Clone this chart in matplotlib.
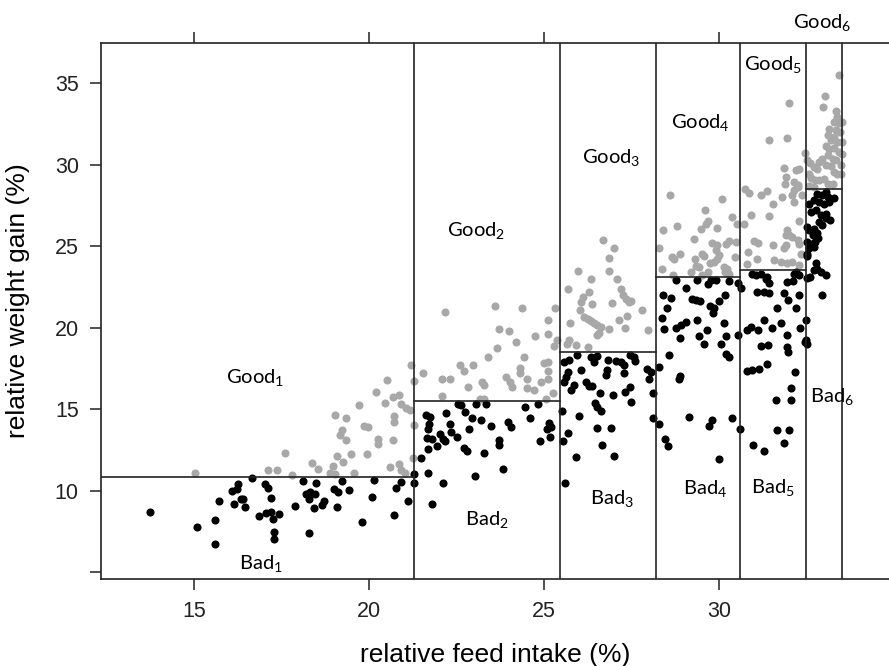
import numpy as np
import matplotlib
matplotlib.use("Agg")
import matplotlib.pyplot as plt

# group boundaries on the feed axis and the weight-gain cut in each group
cuts = [21.27, 25.46, 28.19, 30.6, 32.48, 33.52]
levels = [10.84, 15.48, 18.51, 23.07, 23.52, 28.5]

# points above the cut (grey) and below it (black), per group
good_1 = [(15.02, 11.09), (17.12, 11.23), (17.37, 11.23), (17.6, 12.29), (17.79, 10.94),
          (18.36, 11.66), (18.55, 11.29), (18.96, 11.49), (19.25, 11.74), (18.89, 11.1),
          (19.03, 11.04), (19.57, 11.09), (20.61, 11.43), (20.86, 11.6), (20.9, 11.23),
          (21.03, 11.1), (21.25, 12.0), (19.08, 12.1), (19.49, 12.25), (19.93, 12.23),
          (19.35, 13.07), (20.25, 13.19), (20.25, 12.88), (20.68, 13.09), (19.22, 13.7),
          (19.18, 13.4), (19.86, 13.94), (19.98, 13.87), (20.72, 14.58), (20.7, 14.21),
          (21.27, 14.0), (19.02, 14.62), (19.35, 14.46), (19.72, 15.23), (21.05, 15.07),
          (21.17, 14.93), (20.45, 15.34), (20.69, 15.72), (20.84, 15.85), (20.9, 15.3),
          (20.2, 16.06), (20.51, 16.77), (21.29, 16.73), (21.19, 17.69)]
good_2 = [(22.17, 20.96), (23.6, 21.31), (24.38, 21.17), (25.31, 21.17), (23.71, 19.94),
          (24.0, 19.77), (25.12, 20.45), (24.19, 19.12), (24.73, 19.49), (25.12, 19.63),
          (25.36, 19.22), (25.27, 18.85), (23.65, 18.75), (23.4, 18.18), (24.42, 18.18),
          (22.6, 17.73), (22.71, 17.36), (22.97, 17.73), (24.31, 17.53), (24.31, 17.22),
          (24.99, 17.81), (25.12, 17.9), (25.12, 17.32), (21.55, 17.24), (22.09, 16.83),
          (22.31, 16.83), (23.22, 16.67), (23.29, 16.46), (22.82, 16.34), (23.92, 16.98),
          (24.03, 16.67), (24.09, 16.36), (24.5, 16.87), (24.52, 16.3), (24.71, 16.15),
          (24.9, 16.67), (25.12, 16.87), (25.24, 16.01), (22.09, 15.79), (23.18, 15.6),
          (23.29, 15.6), (25.05, 15.62)]
good_3 = [(26.68, 25.4), (27.0, 24.85), (26.86, 24.28), (26.84, 23.45), (25.98, 23.45),
          (26.33, 23.0), (27.08, 23.0), (25.67, 22.39), (26.29, 22.19), (27.19, 22.39),
          (27.24, 21.98), (27.33, 21.78), (27.43, 21.58), (27.49, 21.62), (26.1, 21.88),
          (26.05, 21.58), (26.38, 21.47), (26.95, 21.53), (27.81, 21.06), (26.03, 21.06),
          (27.38, 20.71), (27.14, 20.45), (26.14, 20.65), (26.24, 20.55), (26.33, 20.39),
          (26.43, 20.3), (26.52, 20.14), (26.62, 20.04), (25.74, 20.29), (26.86, 19.9),
          (27.3, 19.98), (27.98, 19.83), (26.5, 19.57), (26.57, 19.69), (25.71, 19.26),
          (25.65, 19.02), (25.9, 18.92), (26.24, 18.81)]
good_4 = [(28.6, 28.12), (30.08, 27.88), (29.59, 27.2), (30.38, 26.79), (28.81, 26.22),
          (29.67, 26.52), (29.62, 26.38), (29.47, 26.07), (29.93, 26.11), (28.4, 25.97),
          (30.52, 26.38), (29.27, 25.42), (29.81, 25.21), (29.95, 25.05), (29.9, 24.74),
          (30.0, 24.48), (29.95, 24.23), (30.29, 25.29), (30.21, 25.15), (30.49, 25.26),
          (28.29, 24.85), (28.65, 24.33), (28.71, 24.23), (28.88, 24.54), (29.5, 24.54),
          (29.57, 24.4), (29.31, 24.23), (29.74, 23.99), (29.86, 24.03), (30.46, 24.33),
          (29.33, 23.78), (29.43, 23.72), (29.67, 23.42), (30.14, 23.7), (30.24, 23.62),
          (30.17, 23.42), (28.36, 23.62), (29.19, 23.42), (29.5, 23.21), (30.29, 23.31),
          (28.67, 23.25)]
good_5 = [(32.0, 33.79), (31.43, 31.49), (31.95, 31.6), (31.86, 29.8), (32.19, 29.65),
          (31.91, 29.25), (31.88, 28.83), (32.24, 28.73), (32.14, 28.42), (32.07, 28.12),
          (32.38, 28.12), (30.73, 28.53), (30.86, 28.28), (31.19, 28.16), (31.38, 28.37),
          (31.81, 28.02), (31.55, 27.61), (32.14, 27.71), (30.9, 26.93), (31.43, 26.85),
          (30.7, 26.38), (32.27, 26.52), (31.95, 25.97), (31.91, 25.66), (32.0, 25.66),
          (32.09, 25.56), (32.24, 25.36), (32.29, 25.15), (31.0, 25.3), (31.11, 25.21),
          (31.55, 25.05), (31.91, 25.09), (31.86, 24.85), (30.83, 24.64), (32.33, 24.54),
          (31.07, 24.23), (31.57, 24.13), (31.76, 24.03), (31.95, 23.93), (32.09, 24.03),
          (30.81, 23.87), (32.29, 23.82), (32.29, 29.75), (32.14, 28.94), (32.24, 28.63),
          (32.45, 30.71)]
good_6 = [(33.43, 35.52), (33.02, 34.21), (32.98, 33.53), (33.33, 33.27), (33.36, 32.93),
          (33.27, 32.62), (33.43, 32.52), (33.52, 32.62), (33.14, 32.21), (33.33, 32.1),
          (33.46, 32.0), (33.1, 31.8), (33.29, 31.7), (33.19, 31.49), (33.38, 31.39),
          (33.52, 31.39), (33.05, 31.15), (33.14, 30.98), (33.29, 31.02), (33.43, 30.78),
          (33.52, 30.67), (33.1, 30.57), (33.24, 30.37), (33.33, 30.26), (32.95, 30.37),
          (32.86, 30.16), (33.05, 30.0), (33.19, 29.92), (33.48, 29.96), (32.6, 30.12),
          (32.51, 30.26), (32.7, 29.85), (32.81, 29.75), (33.27, 29.55), (33.38, 29.39),
          (33.49, 29.45), (32.57, 29.45), (32.62, 29.18), (32.73, 29.04), (32.86, 29.04),
          (33.0, 29.14), (33.1, 28.83), (33.24, 28.83), (32.57, 28.69), (32.71, 28.63)]

bad_1 = [(13.73, 8.69), (15.09, 7.75), (15.61, 6.69), (15.61, 8.2), (15.71, 9.34),
         (16.09, 10.0), (16.24, 10.37), (16.22, 10.12), (16.14, 9.16), (16.33, 9.47),
         (16.41, 9.47), (16.46, 9.0), (16.65, 10.74), (16.84, 8.45), (17.02, 10.41),
         (17.1, 10.17), (17.2, 9.55), (17.05, 8.59), (17.2, 8.69), (17.26, 8.24),
         (17.43, 8.55), (17.28, 7.47), (17.29, 7.01), (17.87, 9.06), (18.1, 10.61),
         (18.48, 10.47), (18.19, 9.8), (18.31, 9.88), (18.45, 9.8), (18.29, 9.45),
         (18.42, 8.94), (18.7, 9.35), (18.66, 9.1), (18.99, 10.12), (19.1, 9.92),
         (19.07, 8.98), (19.23, 10.61), (19.43, 10.06), (18.29, 7.42), (19.81, 8.06),
         (20.08, 9.63), (20.15, 10.63), (20.71, 8.49), (20.78, 10.17), (20.91, 10.51),
         (21.1, 9.37)]
bad_2 = [(21.29, 11.0), (21.29, 10.43), (22.53, 15.28), (22.62, 15.23), (23.05, 15.3),
         (23.35, 15.32), (24.44, 15.13), (24.83, 15.32), (21.62, 14.66), (21.74, 14.52),
         (22.21, 14.77), (22.73, 14.79), (22.93, 14.46), (23.2, 14.34), (23.97, 14.21),
         (24.05, 13.9), (24.61, 14.46), (25.14, 14.15), (25.19, 13.9), (25.09, 13.76),
         (21.71, 14.11), (21.69, 13.8), (22.31, 14.09), (22.34, 13.6), (22.84, 13.8),
         (23.48, 13.97), (21.64, 13.25), (21.79, 13.19), (22.03, 13.45), (22.11, 13.19),
         (22.17, 13.02), (22.5, 13.29), (23.71, 13.09), (23.71, 12.78), (24.89, 13.02),
         (25.16, 13.29), (21.67, 12.52), (21.95, 12.72), (22.71, 12.62), (22.81, 12.44),
         (23.27, 12.31), (21.48, 12.0), (21.69, 11.1), (23.02, 10.92), (23.83, 11.31),
         (22.11, 10.43), (21.79, 9.2)]
bad_3 = [(25.57, 17.9), (25.71, 18.0), (25.95, 18.3), (26.33, 18.2), (26.43, 17.9),
         (26.52, 18.27), (26.83, 18.0), (27.05, 17.93), (27.19, 17.9), (27.29, 17.69),
         (27.46, 18.3), (27.57, 18.2), (27.6, 17.93), (25.67, 17.28), (25.62, 16.98),
         (25.57, 16.67), (26.05, 17.38), (26.81, 17.38), (26.76, 17.07), (27.29, 17.24),
         (27.93, 17.44), (28.05, 17.28), (28.0, 16.87), (25.86, 16.5), (25.78, 16.15),
         (26.19, 16.63), (26.29, 16.42), (26.38, 16.42), (26.59, 16.01), (26.97, 15.85),
         (27.46, 16.36), (27.31, 16.06), (28.11, 16.01), (27.49, 15.4), (26.46, 15.38),
         (26.5, 15.13), (26.62, 14.87), (25.5, 14.85), (26.0, 14.56), (28.11, 14.46),
         (25.67, 13.54), (25.55, 13.05), (26.5, 13.85), (26.9, 13.85), (26.65, 12.78),
         (25.92, 12.07), (27.01, 12.13), (25.6, 10.43)]
bad_4 = [(28.76, 22.94), (29.38, 22.9), (29.67, 22.7), (29.76, 22.9), (29.9, 22.94),
         (30.29, 22.84), (30.55, 22.76), (29.05, 22.44), (28.4, 22.02), (28.62, 21.82),
         (29.22, 21.78), (29.33, 21.68), (29.46, 21.61), (30.17, 21.98), (30.0, 21.61),
         (29.73, 21.33), (29.86, 21.21), (29.83, 20.9), (28.52, 21.17), (28.36, 20.61),
         (29.38, 20.45), (30.14, 20.25), (29.05, 20.31), (28.9, 20.14), (28.76, 19.98),
         (28.43, 19.94), (29.64, 19.83), (29.43, 19.49), (30.19, 19.47), (30.53, 19.53),
         (28.89, 19.33), (29.57, 19.02), (30.05, 18.96), (30.21, 18.4), (30.27, 18.2),
         (28.57, 18.34), (28.29, 17.55), (28.89, 17.02), (28.86, 16.87), (29.14, 14.52),
         (30.38, 14.46), (29.81, 14.31), (29.71, 13.97), (28.29, 14.07), (30.59, 13.76),
         (28.46, 13.19), (28.54, 12.72), (30.0, 11.96)]
bad_5 = [(30.62, 22.44), (30.95, 23.31), (31.05, 23.25), (31.19, 23.31), (31.33, 23.0),
         (31.43, 22.76), (31.38, 23.11), (31.95, 22.8), (32.12, 22.84), (32.14, 23.31),
         (31.07, 22.15), (31.29, 22.19), (31.43, 22.09), (31.84, 22.09), (32.29, 21.98),
         (31.98, 21.68), (31.64, 21.17), (32.19, 21.17), (31.29, 20.49), (31.76, 20.25),
         (31.52, 19.98), (32.3, 19.98), (30.9, 20.04), (30.81, 19.83), (31.12, 19.83),
         (31.95, 19.57), (31.19, 18.88), (31.41, 18.92), (31.95, 18.81), (31.97, 18.51),
         (30.81, 17.32), (30.95, 17.38), (31.14, 17.48), (31.38, 17.77), (32.16, 17.28),
         (32.06, 16.32), (31.62, 15.54), (32.06, 15.54), (31.64, 13.7), (32.0, 13.7),
         (31.86, 12.94), (30.97, 12.82), (31.29, 12.41), (32.19, 23.42), (32.29, 23.21)]
bad_6 = [(32.81, 28.22), (32.95, 28.12), (33.05, 28.33), (33.1, 28.02), (33.27, 27.96),
         (32.71, 27.81), (32.86, 27.71), (33.0, 27.61), (33.14, 27.71), (32.57, 27.61),
         (32.62, 27.1), (32.76, 27.2), (32.9, 26.89), (33.05, 26.99), (33.17, 26.58),
         (33.05, 26.69), (32.86, 26.48), (32.95, 26.28), (32.52, 26.18), (32.57, 25.97),
         (32.71, 26.07), (32.67, 25.66), (32.81, 25.77), (32.83, 25.5), (32.52, 25.26),
         (32.62, 25.15), (32.73, 25.26), (32.57, 24.85), (32.71, 24.95), (32.52, 24.54),
         (32.5, 24.4), (32.76, 23.93), (32.81, 23.62), (32.7, 23.52), (32.92, 23.42),
         (33.05, 23.21), (32.52, 23.05), (32.6, 23.11), (32.93, 22.02), (32.48, 20.45),
         (32.48, 19.22), (32.5, 19.02), (32.45, 19.1)]

# label anchors (x centre, y baseline) for Good_i / Bad_i
good_lab = [(16.74, 16.53), (23.06, 25.6), (26.91, 30.03), (29.46, 32.18), (31.54, 35.76), (32.96, 38.35)]
bad_lab = [(16.91, 5.12), (23.37, 7.82), (26.94, 9.11), (29.6, 9.72), (31.54, 9.8), (33.23, 15.37)]

xticks = [15, 20, 25, 30]
yticks = [5, 10, 15, 20, 25, 30, 35]
ytick_labels = ['', '10', '15', '20', '25', '30', '35']

plt.rcParams['font.family'] = ['Liberation Sans', 'DejaVu Sans']

fig = plt.figure(figsize=(8.89, 6.66), dpi=100)
ax = fig.add_axes([101/889, 87/666, 791/889, 535.7/666])

good = np.array(good_1 + good_2 + good_3 + good_4 + good_5 + good_6)
bad = np.array(bad_1 + bad_2 + bad_3 + bad_4 + bad_5 + bad_6)
ax.scatter(good[:, 0], good[:, 1], s=34, c='#a8a8a8', linewidths=0, zorder=2)
ax.scatter(bad[:, 0], bad[:, 1], s=34, c='black', linewidths=0, zorder=2)

ax.set_xlim(12.34, 34.94)
ax.set_ylim(4.57, 37.44)

# group separators and thresholds
left = ax.get_xlim()[0]
for i, c in enumerate(cuts):
    ax.axvline(c, color='#222222', lw=1.2, zorder=3)
    x0 = left if i == 0 else cuts[i - 1]
    ax.plot([x0, c], [levels[i], levels[i]], color='#222222', lw=1.2, zorder=3)

for i, (x, y) in enumerate(good_lab):
    ax.text(x, y, 'Good$_{\\mathregular{%d}}$' % (i + 1), family='Lato', fontsize=14.5,
            ha='center', va='baseline', clip_on=False)
for i, (x, y) in enumerate(bad_lab):
    ax.text(x, y, 'Bad$_{\\mathregular{%d}}$' % (i + 1), family='Lato', fontsize=14.5,
            ha='center', va='baseline')

ax.set_xticks(xticks)
ax.set_yticks(yticks)
ax.set_yticklabels(ytick_labels)
ax.tick_params(direction='out', length=8, width=1.1, labelsize=15.5, pad=8,
               top=True, labeltop=False, right=False, colors='#222222')
for s in ax.spines.values():
    s.set_linewidth(1.2)
    s.set_color('#222222')

ax.set_xlabel('relative feed intake (%)', fontsize=19)
ax.set_ylabel('relative weight gain (%)', fontsize=19)
ax.xaxis.set_label_coords(0.498, -0.12)
ax.yaxis.set_label_coords(-0.09, 0.52)

fig.savefig('out.png', dpi=100)
